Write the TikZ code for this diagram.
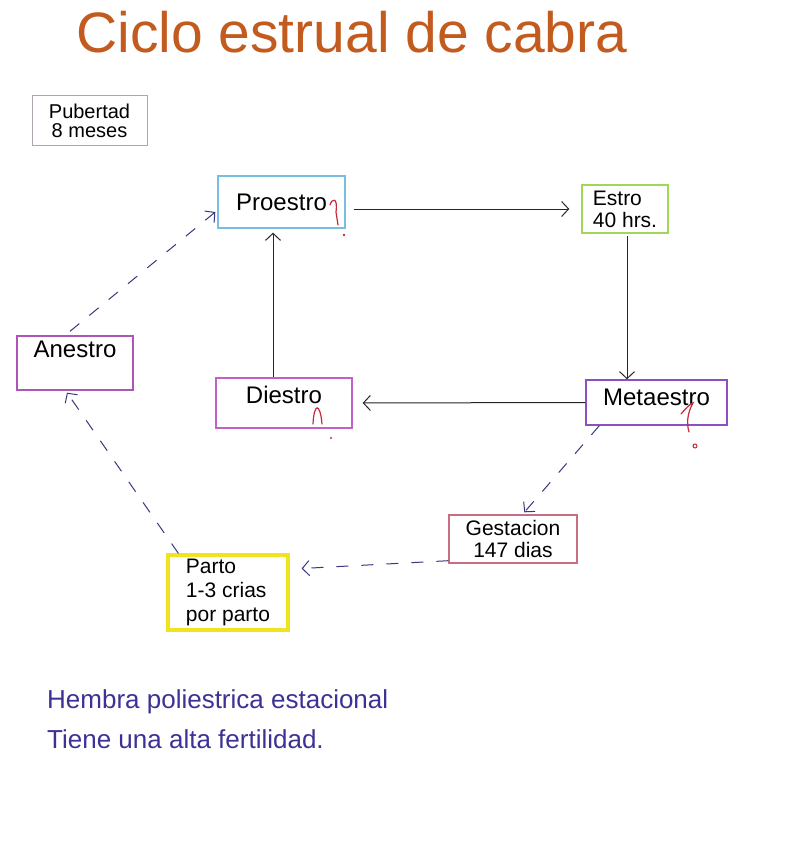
\documentclass[tikz,border=0pt]{standalone}
\usepackage{fontspec}
\setmainfont{Liberation Sans}
\usetikzlibrary{arrows.meta}
\definecolor{cpro}{RGB}{120,190,225}
\definecolor{cest}{RGB}{160,215,90}
\definecolor{cmet}{RGB}{140,80,195}
\definecolor{cdie}{RGB}{195,95,200}
\definecolor{cane}{RGB}{175,85,185}
\definecolor{cges}{RGB}{200,110,130}
\definecolor{cpar}{RGB}{240,228,30}
\definecolor{cpub}{RGB}{175,165,175}
\definecolor{cblue}{RGB}{55,55,130}
\definecolor{ctxt}{RGB}{60,50,150}
\definecolor{ctitle}{RGB}{195,90,30}
\definecolor{cred}{RGB}{200,40,60}
\begin{document}
\begin{tikzpicture}[x=1pt,y=-1pt,
  box/.style={draw, rectangle, line width=1.4pt, inner sep=4pt},
  onel/.style={font=\fontsize{24}{26}\selectfont},
  twol/.style={font=\fontsize{21}{22}\selectfont, align=left},
  arr/.style={-{Straight Barb[length=7pt,width=15pt,line width=1pt]}, line width=1pt, draw=black!85},
  dsh/.style={arr, draw=cblue, dash pattern=on 12pt off 13pt},
  redmark/.style={draw=cred, line width=1.2pt, line cap=round}]
\useasboundingbox[fill=white] (0,0) rectangle (798,848);

% title
\node[anchor=base west, text=ctitle, font=\fontsize{57}{60}\selectfont, inner sep=0pt] (title) at (76,53) {Ciclo estrual de cabra};

% pubertad
\node[box, draw=cpub, line width=1pt, minimum width=115pt, minimum height=49pt,
      font=\fontsize{20}{19}\selectfont, align=center] (pub) at (89.5,120.5) {Pubertad\\8 meses};

% cycle boxes
\node[box, onel, draw=cpro, minimum width=127pt, minimum height=52pt] (pro) at (281.5,202) {Proestro};
\node[box, twol, draw=cest, minimum width=86pt, minimum height=48pt] (est) at (625,209) {Estro\\40 hrs.};
\node[box, onel, draw=cmet, minimum width=141pt, minimum height=45pt, text height=17pt, text depth=12pt] (met) at (656.5,402.5) {Metaestro};
\node[box, onel, draw=cdie, minimum width=136pt, minimum height=50pt, text height=17pt, text depth=17pt] (die) at (284,403) {Diestro};
\node[box, onel, draw=cane, minimum width=116pt, text height=17pt, text depth=29pt] (ane) at (75,363) {Anestro};
\node[box, twol, draw=cges, align=center, minimum width=128pt, minimum height=48pt] (ges) at (513,539) {Gestacion\\147 dias};
\node[box, draw=cpar, line width=3.2pt, minimum width=120pt, minimum height=75pt,
      font=\fontsize{21}{24}\selectfont, align=left] (par) at (228,592.5) {Parto\\1-3 crias\\por parto};

% solid connectors
\draw[arr, shorten <=8pt, shorten >=12pt] (pro.east |- est.west) -- (est.west);
\draw[arr, shorten <=2pt] ([xshift=2pt]est.south) -- ([xshift=2pt]est.south |- met.north);
\draw[arr, shorten >=10pt] (met.west) -- (die.east);
\draw[arr, shorten >=4pt] ([xshift=-11pt]die.north) -- ([xshift=-11pt]die.north |- pro.south);

% dashed connectors
\draw[dsh] ([xshift=14pt]met.south west) -- ([xshift=76pt,yshift=2pt]ges.north west);
\draw[dsh] ([yshift=3pt]ges.south west) -- ([xshift=12pt,yshift=24pt]par.east);
\draw[dsh] ([xshift=12pt]par.north west) -- ([xshift=-8pt,yshift=-2pt]ane.south);
\draw[dsh] ([xshift=-5pt,yshift=4pt]ane.north) -- ([xshift=-2pt,yshift=-10pt]pro.west);

% red marks
\draw[redmark] (330,205) .. controls (332,198) and (338,197) .. (336,212) -- (338,225);
\fill[cred] (344,235) circle (1.3pt);
\draw[redmark] (313,424) .. controls (314,403) and (320,402) .. (322,424);
\fill[cred] (331,438) circle (1.1pt);
\draw[redmark] (681,414) .. controls (685,409) and (690,404) .. (693,403) .. controls (688,412) and (686,422) .. (689,432);
\draw[cred, line width=1pt] (695,446) circle (2pt);

% notes
\node[anchor=base west, text=ctxt, font=\fontsize{26}{28}\selectfont, inner sep=0pt] (n1) at (47,708) {Hembra poliestrica estacional};
\node[anchor=base west, text=ctxt, font=\fontsize{26}{28}\selectfont, inner sep=0pt] (n2) at (47,748) {Tiene una alta fertilidad.};
\end{tikzpicture}
\end{document}
